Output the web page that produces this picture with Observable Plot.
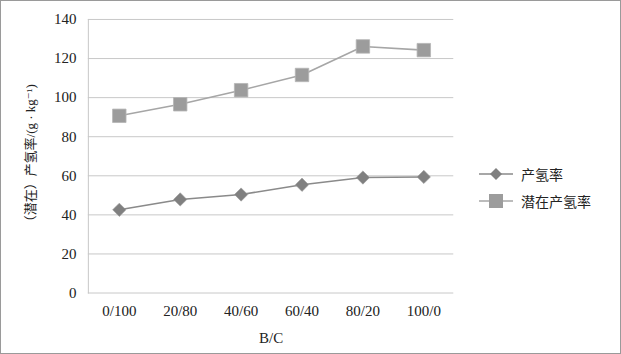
<!DOCTYPE html>
<html><head><meta charset="utf-8">
<script src="https://cdn.jsdelivr.net/npm/d3@7"></script>
<script src="https://cdn.jsdelivr.net/npm/@observablehq/plot@0.6"></script>
<style>
body{margin:0;background:#fff;}
#wrap{position:relative;width:621px;height:354px;box-sizing:border-box;border:1px solid #9a9a9a;overflow:hidden;}
#chart{position:absolute;left:-1px;top:-1px;}
#chart svg, #chart svg text{font-family:"Liberation Serif","Times New Roman","DejaVu Serif","Noto Sans CJK SC",serif !important;}
.leg{position:absolute;font-family:"Liberation Serif","Noto Sans CJK SC",serif;font-size:14px;color:#222;display:flex;align-items:center;}
.leg svg{margin-right:8px;}
</style></head>
<body>
<div id="wrap"><div id="chart"></div>
<div id="legend"></div></div>
<script>
const categories = ["0/100","20/80","40/60","60/40","80/20","100/0"];
const hydrogenYield = [42.6, 47.9, 50.4, 55.4, 59.1, 59.4];
const potentialYield = [90.7, 96.6, 103.8, 111.6, 126.2, 124.3];
const seriesNames = ["产氢率","潜在产氢率"];
const yTicks = [0,20,40,60,80,100,120,140];
const yTitle = "（潜在）产氢率/(g · kg⁻¹)";
const xTitle = "B/C";

const rowsA = categories.map((c,i)=>({cat:c, v:hydrogenYield[i]}));
const rowsB = categories.map((c,i)=>({cat:c, v:potentialYield[i]}));

const cA = "#808080", cB = "#9c9c9c";

const chart = Plot.plot({
  width: 621, height: 354,
  marginLeft: 88, marginRight: 167, marginTop: 19, marginBottom: 61,
  style: {fontSize: "15px", color: "#222", background: "transparent"},
  x: {type: "point", domain: categories, padding: 0.5, label: null},
  y: {domain: [0,140], label: null},
  marks: [
    Plot.gridY(yTicks, {stroke: "#c8c8c8", strokeOpacity: 1, strokeWidth: 1}),
    Plot.frame({anchor: "left", stroke: "#c8c8c8"}),
    Plot.axisY(yTicks, {tickSize: 0, tickPadding: 12, label: null, fontSize: 15}),
    Plot.text([yTitle], {text: d => d, frameAnchor: "left", textAnchor: "middle", lineAnchor: "middle", rotate: -90, dx: -58, fontSize: 13, fill: "#222"}),
    Plot.axisX({tickSize: 0, tickPadding: 12, label: xTitle, labelAnchor: "center", labelArrow: "none", labelOffset: 50, fontSize: 15}),
    Plot.line(rowsB, {x: "cat", y: "v", stroke: "#a6a6a6", strokeWidth: 1.6}),
    Plot.dot(rowsB, {x: "cat", y: "v", symbol: "square", r: 7.6, fill: cB, stroke: "#b5b5b5", strokeWidth: 0.8}),
    Plot.line(rowsA, {x: "cat", y: "v", stroke: "#8a8a8a", strokeWidth: 1.6}),
    Plot.dot(rowsA, {x: "cat", y: "v", symbol: "diamond2", r: 6, fill: cA, stroke: "#999", strokeWidth: 0.6})
  ]
});
document.getElementById("chart").appendChild(chart);

const legend = document.getElementById("legend");
const legItems = [
  {name: seriesNames[0], shape: "diamond", fill: cA, line: "#8a8a8a", top: 163},
  {name: seriesNames[1], shape: "square", fill: cB, line: "#a6a6a6", top: 190}
];
legItems.forEach(it => {
  const d = document.createElement("div");
  d.className = "leg";
  d.style.left = "478px"; d.style.top = it.top + "px";
  const shape = it.shape === "diamond"
    ? `<polygon points="17,3 23,9 17,15 11,9" fill="${it.fill}"/>`
    : `<rect x="10" y="2" width="14" height="14" fill="${it.fill}"/>`;
  d.innerHTML = `<svg width="34" height="18"><line x1="0" x2="34" y1="9" y2="9" stroke="${it.line}" stroke-width="1.6"/>${shape}</svg><span>${it.name}</span>`;
  legend.appendChild(d);
});
</script>
</body></html>
